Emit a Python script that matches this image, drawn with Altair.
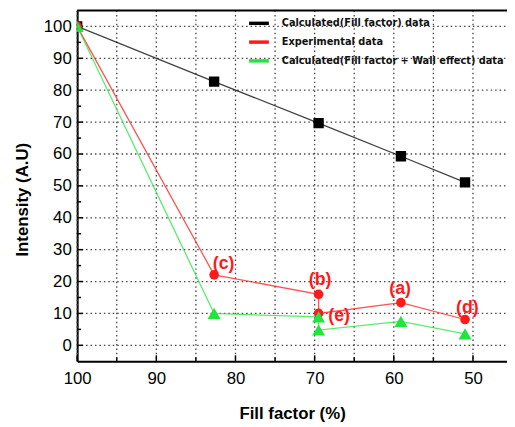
import altair as alt
import pandas as pd

# ---- data ----
series_names = ["Calculated(Fill factor) data",
                "Experimental data",
                "Calculated(Fill factor + Wall effect) data"]
series_colors = ["#000000", "#ff1a1a", "#1ee63c"]
series_shapes = ["square", "circle", "triangle-up"]
series_sizes = [110, 95, 170]

calc_x = [100, 82.7, 69.5, 59.1, 51.0]
calc_y = [100, 82.7, 69.7, 59.3, 51.1]

exp_x = [100, 82.7, 69.5, 69.5, 59.1, 51.0]
exp_y = [100, 22.1, 16.0, 10.0, 13.4, 8.1]

wall_x = [100, 82.7, 69.5, 69.5, 59.1, 51.0]
wall_y = [100, 10.0, 8.9, 4.8, 7.5, 3.6]

label_text = ["(c)", "(b)", "(e)", "(a)", "(d)"]
label_x = [81.5, 69.3, 66.9, 59.2, 50.7]
label_y = [25.4, 20.6, 9.3, 17.8, 11.8]

x_major = [100, 90, 80, 70, 60, 50]
x_minor = [95, 85, 75, 65, 55]
x_grid = [100, 95, 90, 85, 80, 75, 70, 65, 60, 55, 50]
y_major = [0, 10, 20, 30, 40, 50, 60, 70, 80, 90, 100]
y_minor = [5, 15, 25, 35, 45, 55, 65, 75, 85, 95]

W, H = 435, 355

rows = []
for sname, xs, ys in [(series_names[0], calc_x, calc_y),
                      (series_names[1], exp_x, exp_y),
                      (series_names[2], wall_x, wall_y)]:
    for i, (xv, yv) in enumerate(zip(xs, ys)):
        rows.append({"series": sname, "x": xv, "y": yv, "order": i})
df = pd.DataFrame(rows)

labels_df = pd.DataFrame({"t": label_text, "x": label_x, "y": label_y})

xscale = alt.Scale(domain=[45.7, 100], reverse=True, nice=False, zero=False)
yscale = alt.Scale(domain=[-5, 105], nice=False, zero=False)

color_scale = alt.Scale(domain=series_names, range=series_colors)

xaxis = alt.Axis(values=x_grid, grid=False, ticks=False, labelFlush=False,
                 labelOverlap=False,
                 labelExpr="datum.value % 10 == 0 ? datum.label : ''",
                 title="Fill factor (%)")
yaxis = alt.Axis(values=y_major, grid=False, ticks=False, labelOverlap=False,
                 labelFlush=False,
                 title="Intensity (A.U)", titleX=-55, titleY=191,
                 titleAngle=-90, titleAlign="center", titleBaseline="middle")


def X(field):
    return alt.X(field, type="quantitative", scale=xscale, axis=xaxis)


def Y(field):
    return alt.Y(field, type="quantitative", scale=yscale, axis=yaxis)


legend = alt.Legend(orient="none", legendX=172, legendY=1, title=None,
                    symbolType="stroke", symbolStrokeWidth=3.5, symbolSize=400,
                    symbolOpacity=1, labelOffset=11, rowPadding=0, padding=0,
                    labelFont="DejaVu Sans Condensed", labelFontSize=11,
                    labelFontWeight="bold", labelColor="#111", labelLimit=300)

# dotted grid
xgrid = alt.Chart(pd.DataFrame({"v": x_grid})).mark_rule(
    color="#444", strokeWidth=1.3, strokeDash=[1.5, 3]).encode(
    x=X("v"), y=alt.value(0), y2=alt.value(H))
ygrid = alt.Chart(pd.DataFrame({"v": y_major})).mark_rule(
    color="#444", strokeWidth=1.3, strokeDash=[1.5, 3]).encode(
    y=Y("v"), x=alt.value(0), x2=alt.value(W))

lines = alt.Chart(df).mark_line(strokeWidth=1.3, opacity=0.75, clip=True).encode(
    x=X("x"), y=Y("y"),
    color=alt.Color("series:N", scale=color_scale, legend=legend, sort=series_names),
    detail="series:N",
    order="order:Q",
)

point_layers = []
for sname, col, shp, sz in zip(series_names, series_colors, series_shapes, series_sizes):
    point_layers.append(
        alt.Chart(df).transform_filter(alt.datum.series == sname)
        .mark_point(filled=True, opacity=1, clip=True, shape=shp, size=sz, color=col)
        .encode(x=X("x"), y=Y("y"))
    )

texts = alt.Chart(labels_df).mark_text(
    color="#ff1a1a", fontSize=18, fontWeight="bold", font="Liberation Sans"
).encode(x=X("x"), y=Y("y"), text="t:N")

xmaj = alt.Chart(pd.DataFrame({"v": x_major})).mark_rule(color="black", strokeWidth=1.5).encode(
    x=X("v"), y=alt.value(H), y2=alt.value(H - 6))
xmin = alt.Chart(pd.DataFrame({"v": x_minor})).mark_rule(color="black", strokeWidth=1.5).encode(
    x=X("v"), y=alt.value(H), y2=alt.value(H - 4))
ymaj = alt.Chart(pd.DataFrame({"v": y_major})).mark_rule(color="black", strokeWidth=1.5).encode(
    y=Y("v"), x=alt.value(0), x2=alt.value(6))
ymin = alt.Chart(pd.DataFrame({"v": y_minor})).mark_rule(color="black", strokeWidth=1.5).encode(
    y=Y("v"), x=alt.value(0), x2=alt.value(4))
top = alt.Chart(pd.DataFrame({"v": [0]})).mark_rule(color="black", strokeWidth=2).encode(
    y=alt.value(0), x=alt.value(0), x2=alt.value(W))

chart = alt.layer(xgrid, ygrid, lines, xmaj, xmin, ymaj, ymin, top,
                  *point_layers, texts).properties(
    width=W, height=H,
    autosize=alt.AutoSizeParams(type="none"),
    padding={"left": 70, "top": 0, "right": 0, "bottom": 64},
).configure_view(stroke=None).configure_axis(
    domainColor="black", domainWidth=2,
    labelFont="Liberation Sans", labelFontSize=17, labelColor="black",
    titleFont="Liberation Sans", titleFontSize=17, titleFontWeight="bold",
    titleColor="black", labelOverlap=False,
).configure_axisX(labelPadding=9, titlePadding=20).configure_axisY(labelPadding=6)

chart.save("out.html", embed_options={"renderer": "svg", "actions": False})
